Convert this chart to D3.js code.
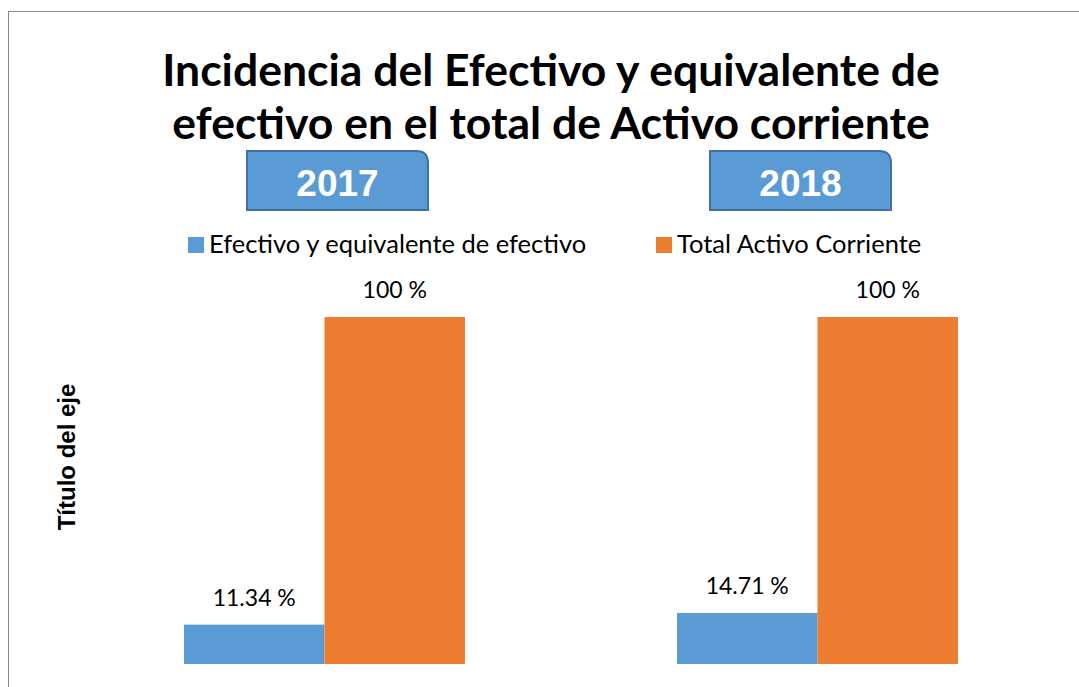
<!DOCTYPE html>
<html>
<head>
<meta charset="utf-8">
<script src="https://cdn.jsdelivr.net/npm/d3@7"></script>
<style>
  body { margin: 0; background: #fff; }
  svg { display: block; }
  text { font-family: Lato, "Noto Sans", sans-serif; }
</style>
</head>
<body>
<div id="chart"></div>
<script>
const years = ['2017', '2018']
const keys = ['Efectivo y equivalente de efectivo', 'Total Activo Corriente']
const efectivo = [11.34, 14.71]
const totalActivo = [100, 100]
const colors = ['#5b9bd5', '#ed7d31']

const w = 1079, h = 687
const margin = { top: 317, left: 78, right: 15, bottom: 23 }
const mainW = w - margin.left - margin.right
const mainH = h - margin.top - margin.bottom
const groupW = 281

const data = years.map((y, i) => ({ name: y, values: [efectivo[i], totalActivo[i]] }))

const svg = d3.select('#chart').append('svg').attr('width', w).attr('height', h)

// chart frame
svg.append('rect').attr('x', 8.5).attr('y', 11.5).attr('width', 1100).attr('height', 700)
  .attr('fill', '#fff').attr('stroke', '#898989').attr('stroke-width', 1)

// title
const title = svg.append('text').attr('text-anchor', 'middle').attr('font-weight', 'bold')
  .attr('font-size', 44.5).attr('fill', '#000')
title.append('tspan').attr('x', 551).attr('y', 86).text('Incidencia del Efectivo y equivalente de')
title.append('tspan').attr('x', 551).attr('y', 139).text('efectivo en el total de Activo corriente')

const g = svg.append('g').attr('transform', `translate(${margin.left},${margin.top})`)

const x0 = d3.scaleBand().domain(years).range([0, mainW])
const x1 = d3.scaleBand().domain([0, 1]).range([0, groupW])
const y = d3.scaleLinear().domain([0, 100]).range([mainH, 0])

// year boxes (rounded top-right corner)
const boxX = [247, 710]
const boxW = 181, boxH = 59, r = 12
const boxes = svg.selectAll('.yearbox').data(years).enter().append('g')
  .attr('transform', (d, i) => `translate(${boxX[i]},151)`)
boxes.append('path')
  .attr('d', `M0,0 H${boxW - r} Q${boxW},0 ${boxW},${r} V${boxH} H0 Z`)
  .attr('fill', '#5b9bd5').attr('stroke', '#41719c').attr('stroke-width', 2)
boxes.append('text').text(d => d).attr('x', boxW / 2).attr('y', 45)
  .attr('text-anchor', 'middle').attr('fill', '#fff').attr('font-weight', 'bold')
  .attr('font-size', 37).style('font-family', '"Liberation Sans", Arial, sans-serif')

// legend
const legendX = [188, 656]
const legend = svg.selectAll('.legend').data(keys).enter().append('g')
  .attr('transform', (d, i) => `translate(${legendX[i]},237)`)
legend.append('rect').attr('width', 16).attr('height', 16).attr('fill', (d, i) => colors[i])
legend.append('text').text(d => d).attr('x', 21).attr('y', 16)
  .attr('font-size', 25.5).attr('fill', '#000')

// bars
const series = g.selectAll('.series').data(data).enter().append('g')
  .attr('transform', d => `translate(${x0(d.name) + (x0.bandwidth() - groupW) / 2},0)`)

series.selectAll('rect').data(d => d.values).enter().append('rect')
  .attr('x', (d, i) => x1(i)).attr('y', d => y(d))
  .attr('width', x1.bandwidth()).attr('height', d => mainH - y(d))
  .attr('fill', (d, i) => colors[i])

series.selectAll('.label').data(d => d.values).enter().append('text')
  .attr('x', (d, i) => x1(i) + x1.bandwidth() / 2).attr('y', d => y(d) - 19)
  .attr('text-anchor', 'middle').attr('font-size', 23).attr('fill', '#000')
  .text(d => (d === 100 ? '100' : d3.format('.2f')(d)) + ' %')

// axis title
svg.append('text').text('Título del eje')
  .attr('transform', 'translate(75,457) rotate(-90)')
  .attr('text-anchor', 'middle').attr('font-weight', 'bold').attr('font-size', 24).attr('fill', '#000')
  .style('font-family', '"Liberation Sans", Arial, sans-serif')
</script>
</body>
</html>
